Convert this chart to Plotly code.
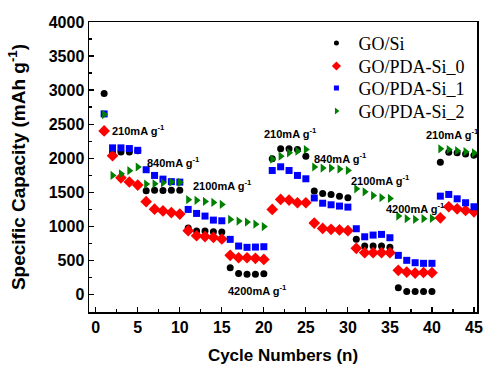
import plotly.graph_objects as go

cycles = list(range(1, 46))

go_si = [2950, 2090, 2090, 2090, 2110, 1520, 1530, 1525, 1530, 1530,
         975, 930, 930, 920, 915, 390, 305, 295, 295, 303,
         1990, 2137, 2137, 2127, 2029, 1516, 1482, 1467, 1442, 1418,
         807, 709, 709, 709, 690, 97, 40, 40, 40, 40,
         1941, 2088, 2080, 2060, 2044]
pda_0 = [2400, 2035, 1711, 1650, 1604, 1360, 1250, 1225, 1200, 1178,
         935, 860, 848, 836, 812, 572, 537, 537, 528, 513,
         1247, 1394, 1384, 1345, 1345, 1047, 968, 954, 945, 935,
         675, 611, 611, 611, 611, 352, 327, 312, 320, 317,
         1124, 1286, 1256, 1232, 1212]
pda_1 = [2650, 2151, 2151, 2141, 2115, 1830, 1746, 1692, 1655, 1648,
         1247, 1188, 1149, 1090, 1080, 807, 709, 690, 694, 699,
         1819, 1873, 1819, 1746, 1697, 1415, 1338, 1315, 1296, 1281,
         963, 845, 870, 880, 831, 572, 499, 464, 455, 455,
         1442, 1467, 1403, 1345, 1286]
pda_2 = [2640, 1746, 1770, 1815, 1870, 1620, 1623, 1638, 1648, 1645,
         1390, 1380, 1365, 1350, 1320, 1100, 1075, 1061, 1030, 995,
         1985, 2029, 2078, 2103, 2127, 1870, 1855, 1855, 1840, 1820,
         1550, 1505, 1450, 1420, 1409, 1149, 1110, 1100, 1110, 1115,
         2137, 2127, 2110, 2095, 2078]

series_names = ["GO/Si", "GO/PDA-Si_0", "GO/PDA-Si_1", "GO/PDA-Si_2"]
series_values = [go_si, pda_0, pda_1, pda_2]
colors = ["#000000", "#FF0000", "#0000FF", "#008000"]
symbols = ["circle", "diamond", "square", "triangle-right"]
sizes = [7, 9, 7, 8]
legend_sizes = [5, 7, 5, 6]
legend_ids = ["legend", "legend2", "legend3", "legend4"]
legend_rows_y = [0.9266, 0.847, 0.771, 0.692]

rate_labels = ["210mA g<sup>-1</sup>", "840mA g<sup>-1</sup>", "2100mA g<sup>-1</sup>",
               "4200mA g<sup>-1</sup>", "210mA g<sup>-1</sup>", "840mA g<sup>-1</sup>",
               "2100mA g<sup>-1</sup>", "4200mA g<sup>-1</sup>", "210mA g<sup>-1</sup>"]
rate_x = [1.75, 5.92, 11.28, 15.49, 19.74, 25.7, 30.18, 34.28, 39.04]
rate_y = [2415, 1949, 1610, 62, 2365, 2007, 1674, 1268, 2350]

fig = go.Figure()
for name, vals, c, s, sz in zip(series_names, series_values, colors, symbols, sizes):
    fig.add_trace(go.Scatter(x=cycles, y=vals, mode="markers", name=name,
                             marker=dict(color=c, symbol=s, size=sz, line=dict(width=0)),
                             showlegend=False, hoverinfo="skip"))
for name, c, s, sz, lg in zip(series_names, colors, symbols, legend_sizes, legend_ids):
    fig.add_trace(go.Scatter(x=[None], y=[None], mode="markers", name=name,
                             marker=dict(color=c, symbol=s, size=sz, line=dict(width=0)),
                             showlegend=True, legend=lg))

for t, x, y in zip(rate_labels, rate_x, rate_y):
    fig.add_annotation(x=x, y=y, text="<b>" + t + "</b>", showarrow=False,
                       xanchor="left", yanchor="middle",
                       font=dict(family="Liberation Sans", size=11, color="black"))

legend_style = dict(font=dict(family="Liberation Serif", size=18, color="black"),
                    bgcolor="rgba(0,0,0,0)", borderwidth=0, itemwidth=34,
                    xanchor="left", yanchor="middle", x=0.581)
layout_legends = {lg: dict(y=yy, **legend_style) for lg, yy in zip(legend_ids, legend_rows_y)}

fig.update_layout(
    width=484, height=366,
    margin=dict(l=89, r=7, t=22, b=54, autoexpand=False),
    paper_bgcolor="white", plot_bgcolor="white",
    font=dict(family="Liberation Sans", color="black"),
    xaxis=dict(range=[-0.8, 45.36], tickvals=list(range(0, 50, 5)), automargin=False,
               showline=True, linecolor="black", linewidth=1.5, mirror=True,
               ticks="inside", ticklen=5, tickwidth=1.2, tickcolor="black",
               minor=dict(dtick=2.5, tick0=0, ticks="inside", ticklen=3, tickcolor="black"),
               showgrid=False, zeroline=False, ticklabelstandoff=0,
               tickfont=dict(family="Liberation Sans", size=16, color="black", weight="bold"),
               title=dict(text="<b>Cycle Numbers (n)</b>",
                          font=dict(family="Liberation Sans", size=17), standoff=14)),
    yaxis=dict(range=[-260, 4000], tickvals=list(range(0, 4500, 500)), automargin=False,
               showline=True, linecolor="black", linewidth=1.5, mirror=True,
               ticks="inside", ticklen=5, tickwidth=1.2, tickcolor="black",
               minor=dict(dtick=250, tick0=0, ticks="inside", ticklen=3, tickcolor="black"),
               showgrid=False, zeroline=False, ticklabelstandoff=0,
               tickfont=dict(family="Liberation Sans", size=16, color="black", weight="bold"),
               title=dict(text="<b>Specific Capacity (mAh g<sup>-1</sup>)</b>",
                          font=dict(family="Liberation Sans", size=19), standoff=18)),
    **layout_legends,
)
fig.write_html("out.html", config={"displayModeBar": False, "staticPlot": True},
               post_script="document.body.style.margin='0';document.body.style.overflow='hidden';")
